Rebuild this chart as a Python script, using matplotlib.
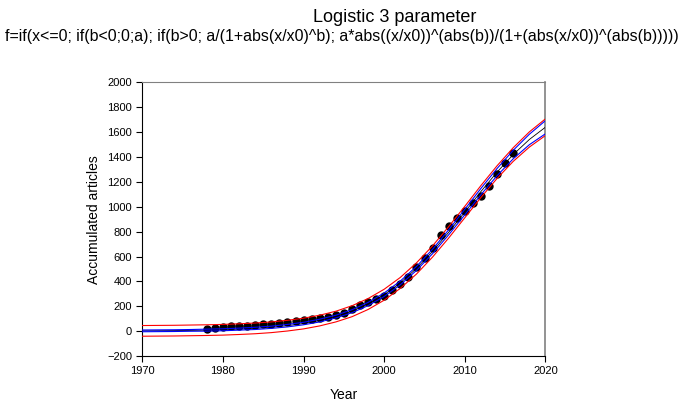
import numpy as np
import matplotlib
matplotlib.use('Agg')
import matplotlib.pyplot as plt

plt.rcParams['font.family'] = ['Liberation Sans', 'DejaVu Sans']

# observed accumulated articles per year
years = list(range(1978, 2017))
articles = [17, 28, 36, 39, 41, 44, 49, 55, 57, 63, 73, 81, 89, 97, 103, 114,
            127, 143, 175, 210, 235, 256, 280, 328, 379, 435, 518, 588, 671, 770,
            845, 910, 962, 1033, 1086, 1167, 1261, 1354, 1435]

# fitted curve and band half-widths
curve_years = [1970, 1972, 1974, 1976, 1978, 1980, 1982, 1984, 1986, 1988, 1990, 1992, 1994,
               1996, 1998, 2000, 2002, 2004, 2006, 2008, 2010, 2012, 2014, 2016, 2018, 2020]
fit = [2, 3, 4, 6, 8, 11, 16, 22, 31, 44, 61, 85, 117,
       160, 218, 293, 388, 504, 641, 795, 958, 1123, 1279, 1420, 1541, 1640]
conf_half = [7, 7, 7, 7, 8, 8, 8, 9, 9, 10, 10, 11, 11,
             12, 13, 14, 15, 16, 18, 20, 22, 25, 29, 34, 42, 53]
pred_half = [43, 43, 43, 43, 43, 43, 43, 43, 43, 43, 43, 43, 43,
             44, 44, 44, 44, 45, 45, 46, 46, 48, 51, 55, 61, 67]

x_ticks = [1970, 1980, 1990, 2000, 2010, 2020]
y_ticks = list(range(-200, 2001, 200))

title = 'Logistic 3 parameter'
formula = ('f=if(x<=0; if(b<0;0;a); if(b>0; a/(1+abs(x/x0)^b); '
           'a*abs((x/x0))^(abs(b))/(1+(abs(x/x0))^(abs(b)))))')

fit = np.array(fit)
conf_half = np.array(conf_half)
pred_half = np.array(pred_half)

fig = plt.figure(figsize=(6.81, 4.0), dpi=100)
ax = fig.add_axes([0.209, 0.11, 0.592, 0.684])

ax.plot(years, articles, 'o', color='black', ms=5, zorder=2)
ax.plot(curve_years, fit, color='black', lw=0.6, zorder=3)
ax.plot(curve_years, fit + pred_half, color='red', lw=0.8, zorder=4)
ax.plot(curve_years, fit - pred_half, color='red', lw=0.8, zorder=4)
ax.plot(curve_years, fit + conf_half, color='blue', lw=0.8, zorder=4)
ax.plot(curve_years, fit - conf_half, color='blue', lw=0.8, zorder=4)

ax.set_xlim(1970, 2020)
ax.set_ylim(-200, 2000)
ax.set_xticks(x_ticks)
ax.set_yticks(y_ticks)
ax.tick_params(direction='out', length=4, width=0.8, labelsize=8)
for s in ['top', 'right']:
    ax.spines[s].set_color('#808080')
ax.spines['right'].set_linewidth(1.2)

ax.set_xlabel('Year', fontsize=10, labelpad=8)
ax.set_ylabel('Accumulated articles', fontsize=10, labelpad=4)

fig.text(0.58, 0.955, title, ha='center', va='center', fontsize=13)
t2 = fig.text(0.502, 0.9075, formula, ha='center', va='center', fontsize=12)

# shrink the formula line so it spans about 676 px like the original
r = fig.canvas.get_renderer()
w = t2.get_window_extent(r).width
t2.set_fontsize(12 * 674 / w)

fig.savefig('out.png', dpi=100)
